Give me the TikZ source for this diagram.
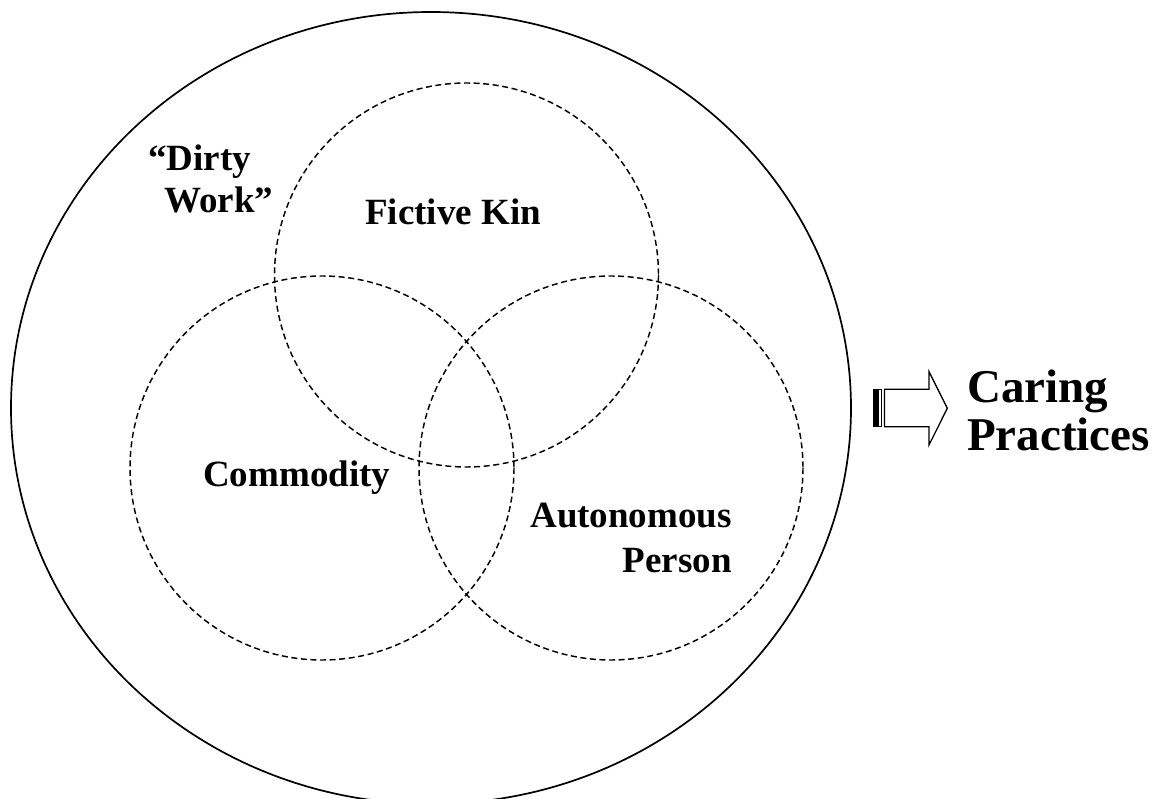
\documentclass[tikz,border=0pt]{standalone}
\usepackage{fontspec}
\setmainfont{Liberation Serif}
\begin{document}
\begin{tikzpicture}[x=1pt,y=-1pt,
  venn/.style={draw=black,line width=1.45pt,dash pattern=on 6pt off 3.6pt},
  outer/.style={draw=black,line width=1.7pt},
  lbl/.style={inner sep=0pt,font=\bfseries\fontsize{37}{45}\selectfont},
  big/.style={inner sep=0pt,font=\bfseries\fontsize{47}{47}\selectfont},
  arrowshape/.style={draw=black,line width=1.3pt,fill=white,line join=miter}
]
\useasboundingbox (0,0) rectangle (1165,799);
% outer ellipse
\draw[outer] (431,408) ellipse [x radius=420, y radius=396];
% venn circles
\draw[venn] (466.5,275) circle [radius=192];
\draw[venn] (322,468) circle [radius=192];
\draw[venn] (611,468) circle [radius=192];
% labels
\node[lbl,anchor=base west] (fk) at (365,225) {Fictive Kin};
\node[lbl,anchor=base west] (com) at (203,486) {Commodity};
\node[lbl,anchor=base west] (dirty) at (148,171) {“Dirty};
\node[lbl,anchor=base west] (work) at (164,213) {Work”};
\node[lbl,anchor=base east] (auto) at (732,527) {Autonomous};
\node[lbl,anchor=base east] (pers) at (732,572) {Person};
\node[big,anchor=base west] (car) at (967,403) {Caring};
\node[big,anchor=base west] (prac) at (967,450) {Practices};
% striped block arrow
\draw[arrowshape] (884.5,389.3) -- (929,389.3) -- (929,371.7) -- (947.3,408.3)
  -- (929,445) -- (929,426.7) -- (884.5,426.7) -- cycle;
\draw[line width=1.3pt,fill=black] (874,389.3) rectangle (877,426.7);
\draw[line width=1.3pt] (878.8,389.3) rectangle (881.3,426.7);
\end{tikzpicture}
\end{document}
